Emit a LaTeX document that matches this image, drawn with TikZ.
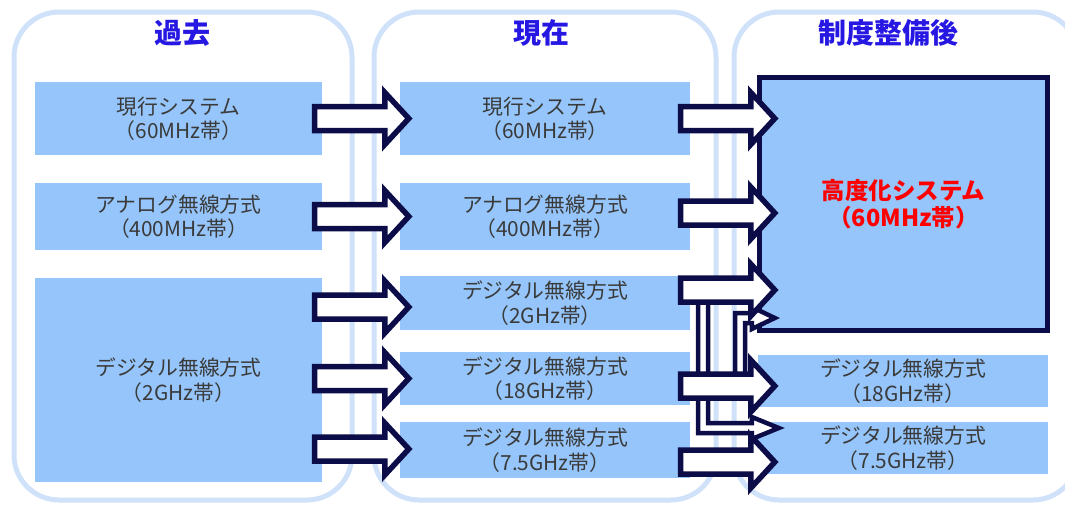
\documentclass[tikz,border=0pt]{standalone}
\usepackage{fontspec}
\setmainfont{Noto Sans CJK JP}
\usetikzlibrary{calc}
\definecolor{frameblue}{RGB}{208,226,250}
\definecolor{boxblue}{RGB}{149,197,250}
\definecolor{navy}{RGB}{12,12,72}
\definecolor{headblue}{RGB}{38,24,226}
\definecolor{txtgray}{RGB}{58,58,58}
\definecolor{redtxt}{RGB}{255,0,0}
\newcommand{\blockarrow}[2]{%
  \draw[blk] ($(#1)+(0,-12)$) -- ($(#2)+(-24,-12)$) -- ($(#2)+(-24,-26)$) -- (#2)
    -- ($(#2)+(-24,26)$) -- ($(#2)+(-24,12)$) -- ($(#1)+(0,12)$) -- cycle;}
\begin{document}
\begin{tikzpicture}[x=1pt,y=-1pt,
  colframe/.style={draw=frameblue,line width=5pt,rounded corners=45pt,inner sep=0pt,minimum width=#1},
  colframe/.default=340pt,
  box/.style={fill=boxblue,inner sep=0pt,text=txtgray,font=\fontsize{20.8}{24.5}\selectfont,align=center},
  bigbox/.style={fill=boxblue,draw=navy,line width=5pt,inner sep=0pt,text=redtxt,font=\fontsize{23.5}{27}\selectfont\bfseries,align=center},
  heading/.style={text=headblue,font=\fontsize{28}{32}\selectfont\bfseries},
  blk/.style={draw=navy,fill=white,line width=5.5pt,line join=miter},
  pipe/.style={draw=navy,fill=white,line width=4.5pt,line join=miter}]
\useasboundingbox (0,0) rectangle (1065,506);
\clip (0,0) rectangle (1065,506);
% column frames
\node[colframe=338pt,minimum height=488pt] (col1) at (183,256) {};
\node[colframe=342pt,minimum height=488pt] (col2) at (545,256) {};
\node[colframe=344pt,minimum height=488pt] (col3) at (906,256) {};
% headings
\node[heading] (h1) at (182,33) {過去};
\node[heading] (h2) at (541,33) {現在};
\node[heading] (h3) at (888,33) {制度整備後};
% column 1
\node[box,minimum width=287pt,minimum height=73pt] (A1) at (178.5,118.5) {現行システム\\（60MHz帯）};
\node[box,minimum width=287pt,minimum height=67pt] (A2) at (178.5,216.5) {アナログ無線方式\\（400MHz帯）};
\node[box,minimum width=287pt,minimum height=204pt] (A3) at (178.5,380) {デジタル無線方式\\（2GHz帯）};
% column 2
\node[box,minimum width=290pt,minimum height=73pt] (B1) at (545,118.5) {現行システム\\（60MHz帯）};
\node[box,minimum width=290pt,minimum height=67pt] (B2) at (545,216.5) {アナログ無線方式\\（400MHz帯）};
\node[box,minimum width=290pt,minimum height=54pt] (B3) at (545,303) {デジタル無線方式\\（2GHz帯）};
\node[box,minimum width=290pt,minimum height=53pt] (B4) at (545,378.5) {デジタル無線方式\\（18GHz帯）};
\node[box,minimum width=290pt,minimum height=56pt] (B5) at (545,450) {デジタル無線方式\\（7.5GHz帯）};
% column 3
\node[box,minimum width=290pt,minimum height=52pt] (C2) at (903,381) {デジタル無線方式\\（18GHz帯）};
\node[box,minimum width=290pt,minimum height=52pt] (C3) at (903,448) {デジタル無線方式\\（7.5GHz帯）};
\node[bigbox,minimum width=288pt,minimum height=253pt] (C1) at (903.5,204) {高度化システム\\（60MHz帯）};
% arrow end points
\coordinate (a1s) at ($(A1.east)+(-7.5,0)$);
\coordinate (a1e) at ($(B1.west)+(9,0)$);
\coordinate (a2s) at ($(A2.east)+(-7.5,0)$);
\coordinate (a2e) at ($(B2.west)+(9,0)$);
\coordinate (a3s) at ($(A3.east|-B3.center)+(-7.5,4)$);
\coordinate (a3e) at ($(B3.west)+(9,4)$);
\coordinate (a4s) at ($(A3.east|-B4.center)+(-7.5,0)$);
\coordinate (a4e) at ($(B4.west)+(9,0)$);
\coordinate (a5s) at ($(A3.east|-B5.center)+(-7.5,-1)$);
\coordinate (a5e) at ($(B5.west)+(9,-1)$);
\coordinate (b1s) at ($(B1.east)+(-9.5,0)$);
\coordinate (b1e) at ($(C2.west|-B1.center)+(17,0)$);
\coordinate (b2s) at ($(B2.east)+(-9.5,-3.5)$);
\coordinate (b2e) at ($(C2.west|-B2.center)+(17,-3.5)$);
\coordinate (b3s) at ($(B3.east)+(-9.5,-13)$);
\coordinate (b3e) at ($(C2.west|-B3.center)+(17,-13)$);
\coordinate (b4s) at ($(B4.east)+(-9.5,7.5)$);
\coordinate (b4e) at ($(C2.west|-B4.center)+(17,7.5)$);
\coordinate (b5s) at ($(B5.east)+(-9.5,12)$);
\coordinate (b5e) at ($(C3.west|-B5.center)+(17,12)$);
\coordinate (p1top) at ($(b3s)+(22.5,5)$);
\coordinate (p1end) at ($(C3.west)+(21,-20)$);
\coordinate (p2bot) at ($(b4s)+(59.5,-4)$);
\coordinate (p2end) at ($(C2.west)+(17,-63)$);
% branching pipes
\draw[pipe] ($(p1top)+(-5,0)$) |- ($(p1end)+(-27,5)$) -- ($(p1end)+(-27,11)$) -- (p1end)
  -- ($(p1end)+(-27,-11)$) -- ($(p1end)+(-27,-5)$) -| ($(p1top)+(5,0)$) -- cycle;
\draw[pipe] ($(p2bot)+(-5,0)$) |- ($(p2end)+(-23,-5)$) -- ($(p2end)+(-23,-11)$) -- (p2end)
  -- ($(p2end)+(-23,11)$) -- ($(p2end)+(-23,5)$) -| ($(p2bot)+(5,0)$) -- cycle;
% block arrows
\blockarrow{a1s}{a1e}
\blockarrow{a2s}{a2e}
\blockarrow{a3s}{a3e}
\blockarrow{a4s}{a4e}
\blockarrow{a5s}{a5e}
\blockarrow{b1s}{b1e}
\blockarrow{b2s}{b2e}
\blockarrow{b3s}{b3e}
\blockarrow{b4s}{b4e}
\blockarrow{b5s}{b5e}
\end{tikzpicture}
\end{document}
